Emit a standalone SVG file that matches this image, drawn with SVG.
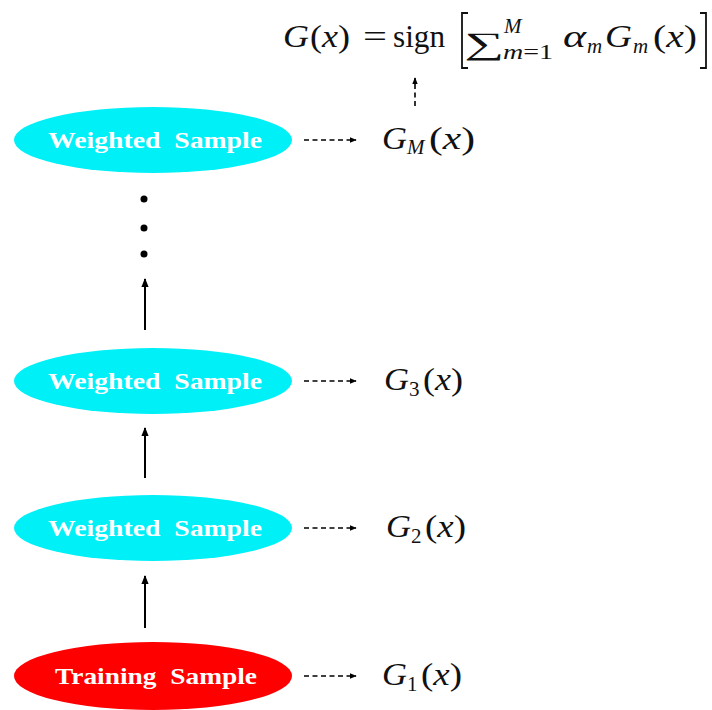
<svg xmlns="http://www.w3.org/2000/svg" width="712" height="710" viewBox="0 0 712 710">
  <style>
    .lbl { font-family: "Liberation Serif", "DejaVu Serif", serif; font-weight: bold; font-size: 24px; fill: #ffffff; text-anchor: middle; }
    .m { font-family: "Liberation Serif", "DejaVu Serif", serif; font-size: 31px; fill: #111111; }
    .it { font-style: italic; }
    .s { font-family: "Liberation Serif", "DejaVu Serif", serif; font-size: 21px; fill: #111111; }
    .solid { stroke: #000; stroke-width: 2; fill: none; }
    .dash { stroke: #000; stroke-width: 1.6; stroke-dasharray: 5 3.5; fill: none; }
  </style>
  <defs>
    <marker id="ah" viewBox="0 0 10 10" refX="9" refY="5" markerWidth="7" markerHeight="7" markerUnits="userSpaceOnUse" orient="auto">
      <path d="M0,1 L10,5 L0,9 z" fill="#000"/>
    </marker>
    <marker id="ahb" viewBox="0 0 10 10" refX="9" refY="5" markerWidth="11" markerHeight="9" markerUnits="userSpaceOnUse" orient="auto">
      <path d="M0,1 L10,5 L0,9 z" fill="#000"/>
    </marker>
  </defs>
  <rect width="712" height="710" fill="#ffffff"/>

  <!-- connectors -->
  <g id="connectors">
    <line class="solid" x1="145" y1="628" x2="145" y2="576" marker-end="url(#ahb)"/>
    <line class="solid" x1="145" y1="478" x2="145" y2="428" marker-end="url(#ahb)"/>
    <line class="solid" x1="145" y1="330" x2="145" y2="279" marker-end="url(#ahb)"/>
    <circle cx="144" cy="199" r="3.5" fill="#000"/>
    <circle cx="144" cy="228" r="3.5" fill="#000"/>
    <circle cx="144" cy="254" r="3.5" fill="#000"/>
    <line class="dash" x1="304" y1="140" x2="356" y2="140" marker-end="url(#ah)"/>
    <line class="dash" x1="304" y1="381" x2="356" y2="381" marker-end="url(#ah)"/>
    <line class="dash" x1="304" y1="528" x2="356" y2="528" marker-end="url(#ah)"/>
    <line class="dash" x1="304" y1="676" x2="356" y2="676" marker-end="url(#ah)"/>
    <line class="dash" x1="415" y1="106" x2="415" y2="78" marker-end="url(#ah)"/>
  </g>

  <!-- nodes -->
  <g id="node-weighted-M">
    <ellipse cx="153" cy="140" rx="139" ry="33" fill="#00f0f8"/>
    <text class="lbl" x="155" y="148" textLength="214" lengthAdjust="spacingAndGlyphs">Weighted&#160; Sample</text>
  </g>
  <g id="node-weighted-3">
    <ellipse cx="153" cy="381" rx="139" ry="33" fill="#00f0f8"/>
    <text class="lbl" x="155" y="389" textLength="214" lengthAdjust="spacingAndGlyphs">Weighted&#160; Sample</text>
  </g>
  <g id="node-weighted-2">
    <ellipse cx="153" cy="528" rx="139" ry="33" fill="#00f0f8"/>
    <text class="lbl" x="155" y="536" textLength="214" lengthAdjust="spacingAndGlyphs">Weighted&#160; Sample</text>
  </g>
  <g id="node-training">
    <ellipse cx="153" cy="676" rx="139" ry="34" fill="#ff0000"/>
    <text class="lbl" x="156" y="684" textLength="202" lengthAdjust="spacingAndGlyphs">Training&#160; Sample</text>
  </g>

  <!-- classifier outputs -->
  <g id="out-M">
    <text class="m it" x="382" y="149" textLength="25" lengthAdjust="spacingAndGlyphs">G</text>
    <text class="s it" x="407" y="154">M</text>
    <text class="m" x="429" y="149" textLength="46" lengthAdjust="spacingAndGlyphs"><tspan>(</tspan><tspan class="it">x</tspan>)</text>
  </g>
  <g id="out-3">
    <text class="m it" x="384" y="390" textLength="25" lengthAdjust="spacingAndGlyphs">G</text>
    <text class="s" x="409" y="396">3</text>
    <text class="m" x="423" y="390" textLength="40" lengthAdjust="spacingAndGlyphs"><tspan>(</tspan><tspan class="it">x</tspan>)</text>
  </g>
  <g id="out-2">
    <text class="m it" x="386" y="537" textLength="25" lengthAdjust="spacingAndGlyphs">G</text>
    <text class="s" x="411" y="543">2</text>
    <text class="m" x="425" y="537" textLength="41" lengthAdjust="spacingAndGlyphs"><tspan>(</tspan><tspan class="it">x</tspan>)</text>
  </g>
  <g id="out-1">
    <text class="m it" x="382" y="685" textLength="25" lengthAdjust="spacingAndGlyphs">G</text>
    <text class="s" x="407" y="691">1</text>
    <text class="m" x="421" y="685" textLength="41" lengthAdjust="spacingAndGlyphs"><tspan>(</tspan><tspan class="it">x</tspan>)</text>
  </g>

  <!-- final combined classifier -->
  <g id="final">
    <text class="m it" x="283" y="47" textLength="26" lengthAdjust="spacingAndGlyphs">G</text>
    <text class="m" x="310" y="47" textLength="40" lengthAdjust="spacingAndGlyphs"><tspan>(</tspan><tspan class="it">x</tspan>)</text>
    <text class="m" x="363" y="47" textLength="24" lengthAdjust="spacingAndGlyphs">=</text>
    <text class="m" x="393" y="47" textLength="52" lengthAdjust="spacingAndGlyphs">sign</text>
    <path d="M468,13 L462,13 L462,68 L468,68" fill="none" stroke="#111" stroke-width="1.8"/>
    <text class="m" x="464" y="54" font-size="34" textLength="40" lengthAdjust="spacingAndGlyphs">∑</text>
    <text class="s it" x="504" y="33" font-size="19">M</text>
    <text class="s" x="503" y="59" font-size="19" textLength="50" lengthAdjust="spacingAndGlyphs"><tspan class="it">m</tspan>=1</text>
    <text class="m it" x="563" y="47" textLength="23" lengthAdjust="spacingAndGlyphs">α</text>
    <text class="s it" x="587" y="53" font-size="19">m</text>
    <text class="m it" x="605" y="47" textLength="27" lengthAdjust="spacingAndGlyphs">G</text>
    <text class="s it" x="633" y="53" font-size="19">m</text>
    <text class="m" x="653" y="47" textLength="44" lengthAdjust="spacingAndGlyphs"><tspan>(</tspan><tspan class="it">x</tspan>)</text>
    <path d="M700,13 L706,13 L706,68 L700,68" fill="none" stroke="#111" stroke-width="1.8"/>
  </g>
</svg>
